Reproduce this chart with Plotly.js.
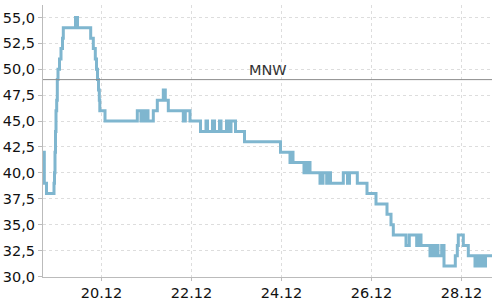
<!DOCTYPE html>
<html>
<head>
<meta charset="utf-8">
<script src="https://cdn.plot.ly/plotly-3.0.1.min.js"></script>
<style>html,body{margin:0;padding:0;background:#fff}#chart{width:500px;height:300px}</style>
</head>
<body>
<div id="chart"></div>
<script>
const times = [
 '2023-12-18 16:48','2023-12-18 17:30','2023-12-18 18:40','2023-12-18 22:40','2023-12-18 22:56',
 '2023-12-18 23:12','2023-12-18 23:28','2023-12-18 23:44','2023-12-19 00:06','2023-12-19 00:26',
 '2023-12-19 00:48','2023-12-19 01:36','2023-12-19 02:24','2023-12-19 03:12','2023-12-19 03:38',
 '2023-12-19 10:08','2023-12-19 11:12','2023-12-19 18:14','2023-12-19 19:38','2023-12-19 20:42',
 '2023-12-19 21:20','2023-12-19 21:52','2023-12-19 22:24','2023-12-19 22:50','2023-12-19 23:06',
 '2023-12-20 01:52','2023-12-20 19:06','2023-12-20 21:04','2023-12-20 21:52','2023-12-20 23:12',
 '2023-12-21 00:00','2023-12-21 00:48','2023-12-21 03:38','2023-12-21 05:46','2023-12-21 08:58',
 '2023-12-21 10:02','2023-12-21 11:38','2023-12-21 19:38','2023-12-21 20:42','2023-12-21 23:12',
 '2023-12-22 04:48','2023-12-22 07:44','2023-12-22 08:32','2023-12-22 11:12','2023-12-22 12:16',
 '2023-12-22 14:56','2023-12-22 15:44','2023-12-22 18:40','2023-12-22 19:28','2023-12-22 21:04',
 '2023-12-22 23:28','2023-12-23 04:16','2023-12-23 23:28','2023-12-24 04:32','2023-12-24 05:20',
 '2023-12-24 06:08','2023-12-24 12:00','2023-12-24 12:32','2023-12-24 13:36','2023-12-24 14:08',
 '2023-12-24 15:12','2023-12-24 20:32','2023-12-24 22:08','2023-12-25 00:06','2023-12-25 01:04',
 '2023-12-25 02:08','2023-12-25 08:58','2023-12-25 11:12','2023-12-25 12:16','2023-12-25 16:26',
 '2023-12-25 21:36','2023-12-26 02:24','2023-12-26 08:16','2023-12-26 10:24','2023-12-26 11:38',
 '2023-12-26 18:24','2023-12-26 20:10','2023-12-27 00:06','2023-12-27 01:30','2023-12-27 02:24',
 '2023-12-27 07:12','2023-12-27 08:16','2023-12-27 09:20','2023-12-27 10:24','2023-12-27 11:28',
 '2023-12-27 13:26','2023-12-27 14:40','2023-12-27 20:42','2023-12-27 21:46','2023-12-27 22:18',
 '2023-12-28 00:58','2023-12-28 03:38','2023-12-28 07:12','2023-12-28 08:16','2023-12-28 09:20',
 '2023-12-28 10:56','2023-12-28 12:00','2023-12-28 12:48','2023-12-28 16:16'
];
const levels = [
 42,39,38,39,40,
 42,44,46,47,49,
 50,51,52,53,54,
 55,54,53,52,51,
 50,49,48,47,46,
 45,46,45,46,45,
 46,45,46,47,48,
 47,46,45,46,45,
 44,45,44,45,44,
 45,44,45,44,45,
 44,43,42,41,42,
 41,40,41,40,41,
 40,39,40,39,40,
 39,40,39,40,39,
 38,37,36,35,34,
 33,34,33,34,33,
 32,33,32,33,32,
 33,31,32,33,34,
 33,32,31,32,31,
 32,31,32,32
];
const mnwValue = 49;
const mnwLabel = 'MNW';
const xRange = ['2023-12-18 16:48','2023-12-28 16:16'];
const yTickVals = [30,32.5,35,37.5,40,42.5,45,47.5,50,52.5,55];

const font = {family:'DejaVu Sans, Verdana, sans-serif', size:14.5, color:'#111'};
Plotly.newPlot('chart', [{
  x: times, y: levels, type:'scatter', mode:'lines',
  line:{shape:'hv', color:'#7fb6cf', width:3},
  hoverinfo:'skip'
}], {
  width:500, height:300,
  margin:{l:43, r:8, t:5, b:23},
  paper_bgcolor:'#fff', plot_bgcolor:'#fff',
  separators:',.',
  showlegend:false,
  font: font,
  xaxis:{
    type:'date', range:xRange, tick0:'2023-12-20', dtick:172800000, tickformat:'%d.%m',
    showgrid:true, gridcolor:'#dddddd', griddash:'3px,3px', gridwidth:1,
    showline:true, linecolor:'#bbbbbb', linewidth:1, mirror:false,
    ticks:'outside', ticklen:3, tickcolor:'#bbbbbb', zeroline:false,
    tickfont:font
  },
  yaxis:{
    range:[29.95,56.2], tickvals:yTickVals, tickformat:'.1f',
    showgrid:true, gridcolor:'#dddddd', griddash:'3px,3px', gridwidth:1,
    showline:true, linecolor:'#bbbbbb', linewidth:1,
    ticks:'outside', ticklen:4, tickcolor:'#bbbbbb', zeroline:false,
    tickfont:font
  },
  shapes:[{type:'line', xref:'paper', x0:0, x1:1, yref:'y', y0:mnwValue, y1:mnwValue,
    line:{color:'#8c8c8c', width:1}}],
  annotations:[{xref:'paper', x:0.5, yref:'y', y:mnwValue, text:mnwLabel, showarrow:false,
    xanchor:'center', yanchor:'bottom', yshift:0, font:{family:'DejaVu Sans, Verdana, sans-serif', size:14.5, color:'#333'}}]
}, {staticPlot:true, displayModeBar:false});
</script>
</body>
</html>
